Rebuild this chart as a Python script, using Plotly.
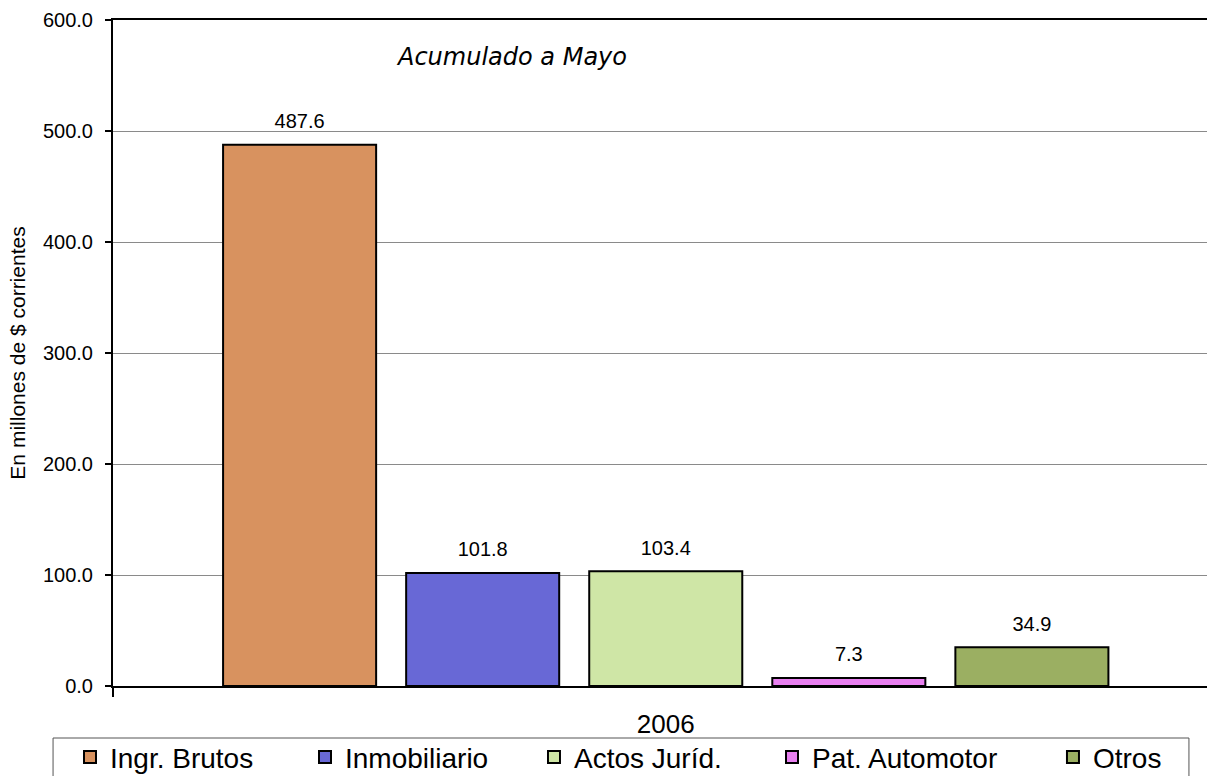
import plotly.graph_objects as go

# ---- data ----
categories = ["2006"]
series_names = ["Ingr. Brutos", "Inmobiliario", "Actos Juríd.", "Pat. Automotor", "Otros"]
series_values = [487.6, 101.8, 103.4, 7.3, 34.9]
series_colors = ["#D8925F", "#6868D6", "#CFE6A6", "#E880F0", "#9BAF62"]
y_tick_values = [0, 100, 200, 300, 400, 500, 600]
legend_x_positions = [-0.0393, 0.1755, 0.3848, 0.6024, 0.8592]

FONT = "Arial, 'Liberation Sans', sans-serif"

fig = go.Figure()
legend_ids = ["legend"] + [f"legend{i}" for i in range(2, len(series_names) + 1)]
for name, val, col, lid in zip(series_names, series_values, series_colors, legend_ids):
    fig.add_trace(go.Bar(
        x=categories, y=[val], name=name,
        marker=dict(color=col, line=dict(color="black", width=2)),
        texttemplate="<span style='font-size:20px'>%{y:.1f}</span><br>\u00a0",
        textposition="outside",
        textfont=dict(size=9, color="black", family=FONT),
        cliponaxis=False, legend=lid, showlegend=True,
    ))

layout_legends = {}
for lid, lx in zip(legend_ids, legend_x_positions):
    layout_legends[lid] = dict(
        x=lx, xanchor="left", y=-0.107, yanchor="middle",
        orientation="h", bgcolor="rgba(0,0,0,0)", borderwidth=0,
        font=dict(size=28, color="black", family=FONT), visible=True,
    )

fig.update_layout(
    width=1207, height=776,
    margin=dict(l=113, r=0, t=20, b=90, pad=0, autoexpand=False),
    paper_bgcolor="white", plot_bgcolor="white",
    showlegend=True,
    barmode="group", bargap=0.172, bargroupgap=0.164,
    font=dict(family=FONT, color="black"),
    **layout_legends,
    xaxis=dict(
        type="category", range=[-0.5, 0.4896],
        showline=True, linecolor="black", linewidth=2, mirror=True,
        ticks="outside", tickson="boundaries", ticklen=9, tickwidth=2, tickcolor="black",
        showgrid=False, tickfont=dict(size=26, color="black"), ticklabelstandoff=14,
    ),
    yaxis=dict(
        range=[0, 600], tickvals=y_tick_values, tickformat=".1f",
        showgrid=True, gridcolor="#8a8a8a", gridwidth=1, zeroline=False,
        showline=True, linecolor="black", linewidth=2,
        ticks="outside", ticklen=6, tickwidth=2, tickcolor="black",
        tickfont=dict(size=20, color="black"), ticklabelstandoff=8,
        title=dict(text="En millones de $ corrientes", font=dict(size=21, color="black"), standoff=12),
    ),
    shapes=[dict(type="rect", xref="paper", yref="paper",
                 x0=-0.0548, x1=0.9835, y0=-0.0781, y1=-0.17,
                 line=dict(color="#555555", width=1), fillcolor="rgba(0,0,0,0)", layer="above")],
    annotations=[dict(text="<i>Acumulado a Mayo</i>", xref="paper", yref="paper",
                      x=0.3647, y=0.9444, xanchor="center", yanchor="middle", showarrow=False,
                      font=dict(size=24, color="black", family="'DejaVu Sans', sans-serif"))],
)

fig.write_html("out.html", config={"displayModeBar": False},
               post_script="document.body.style.margin='0px';")
